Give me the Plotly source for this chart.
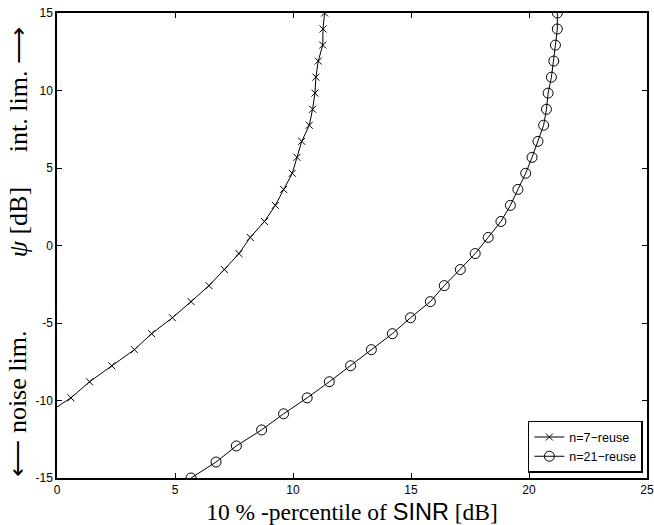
import plotly.graph_objects as go

# psi values [dB] (30 equally spaced points from -15 to 15)
psi = [-15.00, -13.97, -12.93, -11.90, -10.86, -9.83, -8.79, -7.76, -6.72, -5.69,
       -4.66, -3.62, -2.59, -1.55, -0.52, 0.52, 1.55, 2.59, 3.62, 4.66,
       5.69, 6.72, 7.76, 8.79, 9.83, 10.86, 11.90, 12.93, 13.97, 15.00]

# n=7 reuse: 10%-percentile SINR (points below ~-10.5 dB fall left of the axis)
psi_7 = psi[4:]
sinr_7 = [-0.45, 0.59, 1.38, 2.32, 3.28, 4.01, 4.89, 5.68, 6.44, 7.09,
          7.71, 8.19, 8.79, 9.25, 9.60, 9.97, 10.17, 10.37, 10.69, 10.83,
          10.93, 10.97, 11.07, 11.26, 11.27, 11.34]

# n=21 reuse
sinr_21 = [5.68, 6.74, 7.60, 8.67, 9.60, 10.60, 11.54, 12.44, 13.32, 14.21,
           14.98, 15.82, 16.41, 17.09, 17.72, 18.27, 18.81, 19.21, 19.53, 19.86,
           20.13, 20.38, 20.62, 20.74, 20.81, 20.95, 21.05, 21.12, 21.20, 21.20]

x_ticks = [0, 5, 10, 15, 20, 25]
x_ticktext = ["0", "5", "10", "15", "20", "25"]
y_ticks = [-15, -10, -5, 0, 5, 10, 15]
y_ticktext = ["-15", "-10", "-5", "0", "5", "10", "15"]

series_names = ["n=7\u2212reuse", "n=21\u2212reuse"]

fig = go.Figure()
fig.add_trace(go.Scatter(
    x=sinr_7, y=psi_7, mode="lines+markers", name=series_names[0],
    line=dict(color="black", width=1),
    marker=dict(symbol="x-thin", size=7, color="black", line=dict(color="black", width=1)),
))
fig.add_trace(go.Scatter(
    x=sinr_21, y=psi, mode="lines+markers", name=series_names[1],
    line=dict(color="black", width=1),
    marker=dict(symbol="circle-open", size=10, color="black", line=dict(color="black", width=1)),
))

serif = "Liberation Serif, Times New Roman, serif"
sans = "Liberation Sans, Arial, sans-serif"

fig.update_layout(
    width=654, height=525,
    margin=dict(l=57, r=7, t=13, b=47),
    paper_bgcolor="white", plot_bgcolor="white",
    font=dict(family=sans, size=12, color="black"),
    showlegend=True,
    legend=dict(
        x=0.993, y=0.011, xanchor="right", yanchor="bottom",
        bgcolor="white", bordercolor="black", borderwidth=1.5,
        font=dict(family=sans, size=12.5, color="black"),
        itemwidth=30, tracegroupgap=0,
    ),
    xaxis=dict(
        range=[0, 25], tickvals=x_ticks, ticktext=x_ticktext,
        ticks="inside", ticklen=5, tickwidth=1, tickcolor="black",
        showline=True, linecolor="black", linewidth=1.5, mirror="ticks",
        showgrid=False, zeroline=False, automargin=False,
        tickfont=dict(family=sans, size=12),
        title=dict(
            text="10 % -percentile of <span style=\"font-family:Liberation Sans, Arial, sans-serif\">SINR</span> [dB]",
            font=dict(family=serif, size=23.5), standoff=7,
        ),
    ),
    yaxis=dict(
        range=[-15, 15], tickvals=y_ticks, ticktext=y_ticktext,
        ticks="inside", ticklen=5, tickwidth=1, tickcolor="black",
        showline=True, linecolor="black", linewidth=1.5, mirror="ticks",
        showgrid=False, zeroline=False, automargin=False,
        tickfont=dict(family=sans, size=12),
    ),
)

ytitle_font = dict(family=serif, size=26, color="black")
for text, ypos in [("\u27f5 noise lim.", 0.16), ("<i>\u03c8</i> [dB]", 0.55), ("int. lim. \u27f6", 0.834)]:
    fig.add_annotation(
        text=text, xref="paper", yref="paper", x=0, y=ypos,
        xanchor="center", yanchor="middle", xshift=-39, textangle=-90,
        showarrow=False, font=ytitle_font,
    )

fig.write_html("out.html")
